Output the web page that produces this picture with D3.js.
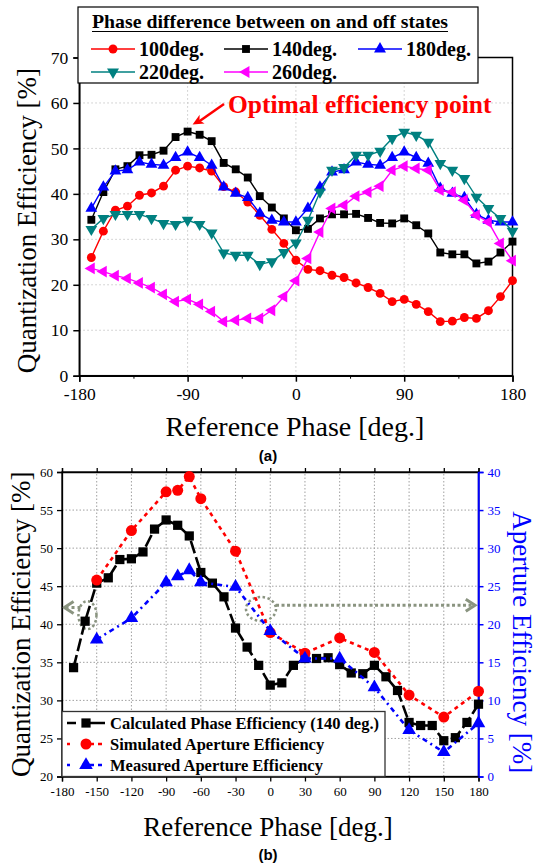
<!DOCTYPE html>
<html>
<head>
<meta charset="utf-8">
<script src="https://cdn.jsdelivr.net/npm/d3@7"></script>
<style>
body { margin: 0; background: #fff; }
text { font-family: "Liberation Serif", "Times New Roman", serif; }
</style>
</head>
<body>
<script>
// ---- data ----
// reference phase, deg.
let phase = [-170, -160, -150, -140, -130, -120, -110, -100, -90, -80, -70, -60,
             -50, -40, -30, -20, -10, 0, 10, 20, 30, 40, 50, 60,
             70, 80, 90, 100, 110, 120, 130, 140, 150, 160, 170, 180];

// quantization efficiency [%] for each on/off phase difference
let eff100 = [26.0, 31.8, 36.4, 37.3, 39.7, 40.2, 41.7, 45.2, 46.1, 45.7, 45.0, 41.6,
              40.4, 38.2, 35.3, 32.2, 29.1, 25.4, 23.4, 23.1, 22.1, 21.6, 20.4, 19.4,
              18.1, 16.3, 16.8, 15.7, 14.1, 11.9, 12.0, 12.8, 12.6, 14.3, 17.4, 20.9];
let eff140 = [34.3, 40.4, 45.4, 46.1, 48.5, 48.6, 49.5, 52.5, 53.7, 53.0, 51.6, 46.8,
              45.4, 43.6, 39.5, 37.0, 34.6, 32.0, 32.3, 34.6, 35.5, 35.5, 35.6, 34.7,
              33.6, 33.5, 34.6, 33.1, 31.3, 27.1, 26.7, 26.7, 24.7, 25.1, 27.1, 29.5];
let eff180 = [36.8, 41.5, 45.0, 45.3, 47.0, 46.5, 46.3, 48.0, 49.2, 48.0, 46.3, 41.5,
              40.1, 39.2, 35.7, 34.2, 33.8, 33.8, 36.8, 41.5, 44.8, 45.3, 47.0, 46.5,
              46.3, 48.0, 49.2, 48.0, 46.7, 41.2, 40.1, 39.2, 35.5, 34.2, 33.8, 33.8];
let eff220 = [32.2, 34.6, 35.5, 35.5, 35.5, 34.6, 33.5, 33.3, 34.2, 33.3, 31.4, 27.0,
              26.5, 26.5, 24.5, 25.1, 27.1, 29.2, 34.2, 40.4, 45.2, 45.8, 48.5, 48.5,
              49.4, 52.2, 53.6, 52.9, 51.4, 46.7, 45.2, 43.4, 39.3, 36.8, 34.6, 31.8];
let eff260 = [23.6, 22.9, 22.0, 21.4, 20.4, 19.4, 17.9, 16.3, 16.8, 15.7, 14.1, 11.9,
              12.2, 12.6, 12.6, 14.4, 17.4, 20.9, 25.8, 31.6, 36.8, 37.5, 39.5, 40.4,
              41.7, 45.2, 46.1, 45.6, 45.2, 40.8, 40.4, 38.6, 35.3, 33.8, 29.1, 25.3];

// panel (b): aperture efficiency [%]
let aperPhase = [-150, -120, -90, -80, -70, -60, -30, 0, 30, 60, 90, 120, 150, 180];
let simAper  = [25.8, 32.3, 37.4, 37.6, 39.4, 36.5, 29.6, 18.9, 16.2, 18.2, 16.3, 10.7, 7.8, 11.2];
let measAper = [18.0, 20.8, 25.5, 26.3, 27.1, 25.5, 24.9, 19.1, 15.5, 15.5, 11.7, 6.1, 3.2, 7.0];

let seriesA = [
  {name: '100deg.', values: eff100, color: '#ff0000', shape: 'circle'},
  {name: '140deg.', values: eff140, color: '#000000', shape: 'square'},
  {name: '180deg.', values: eff180, color: '#0000ff', shape: 'up'},
  {name: '220deg.', values: eff220, color: '#008080', shape: 'down'},
  {name: '260deg.', values: eff260, color: '#ff00ff', shape: 'left'}
];

let svg = d3.select('body').append('svg')
    .attr('width', 537)
    .attr('height', 865);

function marker(shape, size) {
  let type = shape === 'circle' ? d3.symbolCircle : shape === 'square' ? d3.symbolSquare : d3.symbolTriangle;
  return d3.symbol().type(type).size(size)();
}
function rot(shape) {
  return shape === 'down' ? 180 : shape === 'left' ? -90 : 0;
}
let plain = d => String(d);   // hyphen minus, like the original

// ================= panel (a) =================
let xA = d3.scaleLinear().domain([-180, 180]).range([79.3, 512.5]);
let yA = d3.scaleLinear().domain([0, 70]).range([375.7, 57.5]);

let gA = svg.append('g');

// grid
gA.append('g').selectAll('line')
    .data([-90, 0, 90])
  .enter().append('line')
    .attr('x1', d => xA(d)).attr('x2', d => xA(d))
    .attr('y1', yA(0)).attr('y2', yA(70))
    .attr('stroke', '#c8c8c8').attr('stroke-dasharray', '1.5,2.5');
gA.append('g').selectAll('line')
    .data([10, 20, 30, 40, 50, 60])
  .enter().append('line')
    .attr('x1', xA(-180)).attr('x2', xA(180))
    .attr('y1', d => yA(d)).attr('y2', d => yA(d))
    .attr('stroke', '#c8c8c8').attr('stroke-dasharray', '1.5,2.5');

// axes
let axA = gA.append('g')
    .attr('transform', 'translate(0,' + yA(0) + ')')
    .call(d3.axisBottom(xA).tickValues([-180, -90, 0, 90, 180]).tickSize(6).tickPadding(6).tickFormat(plain));
gA.append('g')
    .attr('transform', 'translate(0,' + yA(0) + ')')
    .call(d3.axisBottom(xA).tickValues([-135, -45, 45, 135]).tickSize(3).tickFormat(''))
    .select('.domain').remove();
let ayA = gA.append('g')
    .attr('transform', 'translate(' + xA(-180) + ',0)')
    .call(d3.axisLeft(yA).tickValues(d3.range(0, 71, 10)).tickSize(6).tickPadding(5));
[axA, ayA].forEach(a => {
  a.selectAll('text').style('font-family', '"Liberation Serif", serif').style('font-size', '17.5px').attr('fill', '#000');
  a.selectAll('line, path').attr('stroke', '#000').attr('stroke-width', 1.5);
});

// frame
gA.append('rect')
    .attr('x', xA(-180)).attr('y', yA(70))
    .attr('width', xA(180) - xA(-180)).attr('height', yA(0) - yA(70))
    .attr('fill', 'none').attr('stroke', '#000').attr('stroke-width', 1.5);

// series
seriesA.forEach(s => {
  let pts = phase.map((p, i) => [p, s.values[i]]);
  gA.append('path')
      .datum(pts)
      .attr('fill', 'none')
      .attr('stroke', s.color)
      .attr('stroke-width', 1.4)
      .attr('d', d3.line().x(d => xA(d[0])).y(d => yA(d[1])));
  gA.append('g').selectAll('path')
      .data(pts)
    .enter().append('path')
      .attr('d', marker(s.shape, s.shape === 'circle' ? 62 : s.shape === 'square' ? 62 : 60))
      .attr('transform', d => 'translate(' + xA(d[0]) + ',' + yA(d[1]) + ') rotate(' + rot(s.shape) + ')')
      .attr('fill', s.color);
});

// annotation
gA.append('text')
    .attr('x', 228).attr('y', 113)
    .attr('fill', '#ff0000')
    .style('font-size', '25.5px').style('font-weight', 'bold')
    .text('Optimal efficiency point');
gA.append('line')
    .attr('x1', 224).attr('y1', 104)
    .attr('x2', xA(-90) + 10).attr('y2', yA(53.7) - 9)
    .attr('stroke', '#ff0000').attr('stroke-width', 2.5);
gA.append('path')
    .attr('d', 'M0,0 L11,-5 L8,0 L11,5 Z')
    .attr('transform', 'translate(' + (xA(-90) + 5) + ',' + (yA(53.7) - 7) + ') rotate(-30)')
    .attr('fill', '#ff0000');

// legend
let lg = gA.append('g');
lg.append('rect')
    .attr('x', 78).attr('y', 7).attr('width', 400).attr('height', 76)
    .attr('fill', '#fff').attr('stroke', '#000').attr('stroke-width', 1.2);
lg.append('text')
    .attr('x', 92).attr('y', 28)
    .attr('textLength', 356).attr('lengthAdjust', 'spacingAndGlyphs')
    .style('font-size', '19px').style('font-weight', 'bold')
    .text('Phase difference between on and off states');
lg.append('line')
    .attr('x1', 92).attr('x2', 448).attr('y1', 31.5).attr('y2', 31.5)
    .attr('stroke', '#000').attr('stroke-width', 1.2);
let legPos = [[91, 49], [224, 49], [358, 49], [91, 72], [224, 72]];
seriesA.forEach((s, i) => {
  let [lx, ly] = legPos[i];
  let item = lg.append('g').attr('transform', 'translate(' + lx + ',' + ly + ')');
  item.append('line').attr('x1', 0).attr('x2', 44).attr('y1', 0).attr('y2', 0)
      .attr('stroke', s.color).attr('stroke-width', 1.4);
  item.append('path').attr('d', marker(s.shape, 62))
      .attr('transform', 'translate(22,0) rotate(' + rot(s.shape) + ')')
      .attr('fill', s.color);
  item.append('text').attr('x', 48).attr('y', 7)
      .style('font-size', '20px').style('font-weight', 'bold')
      .text(s.name);
});

// titles
gA.append('text')
    .attr('transform', 'translate(36,' + ((yA(0) + yA(70)) / 2 + 4) + ') rotate(-90)')
    .attr('text-anchor', 'middle')
    .style('font-size', '27px')
    .text('Quantization Efficiency [%]');
gA.append('text')
    .attr('x', (xA(-180) + xA(180)) / 2 - 1).attr('y', 436)
    .attr('text-anchor', 'middle')
    .style('font-size', '28px')
    .text('Reference Phase [deg.]');
svg.append('text')
    .attr('x', 268).attr('y', 461)
    .attr('text-anchor', 'middle')
    .style('font-family', '"Liberation Sans", Arial, sans-serif')
    .style('font-size', '15px').style('font-weight', 'bold')
    .text('(a)');

// ================= panel (b) =================
let xB = d3.scaleLinear().domain([-180, 180]).range([62, 478.5]);
let yB = d3.scaleLinear().domain([20, 60]).range([776.5, 472]);
let yR = d3.scaleLinear().domain([0, 40]).range([776.5, 472]);
let ticksB = d3.range(-180, 181, 30);

let gB = svg.append('g');

gB.append('g').selectAll('line')
    .data(ticksB.slice(1, -1))
  .enter().append('line')
    .attr('x1', d => xB(d)).attr('x2', d => xB(d))
    .attr('y1', yB(20)).attr('y2', yB(60))
    .attr('stroke', '#a0a0a0').attr('stroke-dasharray', '1.5,2');
gB.append('g').selectAll('line')
    .data([25, 30, 35, 40, 45, 50, 55])
  .enter().append('line')
    .attr('x1', xB(-180)).attr('x2', xB(180))
    .attr('y1', d => yB(d)).attr('y2', d => yB(d))
    .attr('stroke', '#a0a0a0').attr('stroke-dasharray', '1.5,2');

let axB = gB.append('g')
    .attr('transform', 'translate(0,' + yB(20) + ')')
    .call(d3.axisBottom(xB).tickValues(ticksB).tickSize(5).tickPadding(5).tickFormat(plain));
let axBt = gB.append('g')
    .attr('transform', 'translate(0,' + yB(60) + ')')
    .call(d3.axisTop(xB).tickValues(ticksB).tickSize(4).tickFormat(''));
let ayB = gB.append('g')
    .attr('transform', 'translate(' + xB(-180) + ',0)')
    .call(d3.axisLeft(yB).tickValues(d3.range(20, 61, 5)).tickSize(5).tickPadding(4));
let ayR = gB.append('g')
    .attr('transform', 'translate(' + xB(180) + ',0)')
    .call(d3.axisRight(yR).tickValues(d3.range(0, 41, 5)).tickSize(5).tickPadding(4));
[axB, axBt, ayB].forEach(a => {
  a.selectAll('text').style('font-family', '"Liberation Serif", serif').style('font-size', '13px').attr('fill', '#000');
  a.selectAll('line, path').attr('stroke', '#000').attr('stroke-width', 1.3);
});
ayR.selectAll('text').style('font-family', '"Liberation Serif", serif').style('font-size', '13px').attr('fill', '#0000ff');
ayR.selectAll('line, path').attr('stroke', '#0000ff').attr('stroke-width', 1.5);

// gray dotted guides
let guide = '#8a9480';
gB.append('ellipse')
    .attr('cx', xB(-158)).attr('cy', yB(41.2)).attr('rx', 9).attr('ry', 14)
    .attr('fill', 'none').attr('stroke', guide).attr('stroke-width', 2.5).attr('stroke-dasharray', '2.5,2.5');
gB.append('line')
    .attr('x1', xB(-164)).attr('x2', xB(-177)).attr('y1', yB(42.2)).attr('y2', yB(42.2))
    .attr('stroke', guide).attr('stroke-width', 3).attr('stroke-dasharray', '3,3');
gB.append('path')
    .attr('d', 'M' + (xB(-170)) + ',' + (yB(42.2) - 6) + ' L' + xB(-178) + ',' + yB(42.2) + ' L' + xB(-170) + ',' + (yB(42.2) + 6))
    .attr('fill', 'none').attr('stroke', guide).attr('stroke-width', 3);
gB.append('ellipse')
    .attr('cx', xB(-8)).attr('cy', yB(42)).attr('rx', 15).attr('ry', 12)
    .attr('fill', 'none').attr('stroke', guide).attr('stroke-width', 2.5).attr('stroke-dasharray', '2.5,2.5');
gB.append('line')
    .attr('x1', xB(5)).attr('x2', xB(176)).attr('y1', yB(42.5)).attr('y2', yB(42.5))
    .attr('stroke', guide).attr('stroke-width', 3).attr('stroke-dasharray', '3,2.5');
gB.append('path')
    .attr('d', 'M' + xB(169) + ',' + (yB(42.5) - 6) + ' L' + xB(177) + ',' + yB(42.5) + ' L' + xB(169) + ',' + (yB(42.5) + 6))
    .attr('fill', 'none').attr('stroke', guide).attr('stroke-width', 3);

// frame
gB.append('rect')
    .attr('x', xB(-180)).attr('y', yB(60))
    .attr('width', xB(180) - xB(-180)).attr('height', yB(20) - yB(60))
    .attr('fill', 'none').attr('stroke', '#000').attr('stroke-width', 1.3);
gB.append('line')
    .attr('x1', xB(180)).attr('x2', xB(180)).attr('y1', yB(20)).attr('y2', yB(60))
    .attr('stroke', '#0000ff').attr('stroke-width', 1.5);

let seriesB = [
  {name: 'Calculated Phase Efficiency (140 deg.)', pts: phase.map((p, i) => [p, eff140[i]]), y: yB,
   color: '#000000', shape: 'square', dash: '13,4', size: 85},
  {name: 'Simulated Aperture Efficiency', pts: aperPhase.map((p, i) => [p, simAper[i]]), y: yR,
   color: '#ff0000', shape: 'circle', dash: '4,4', size: 95},
  {name: 'Measured Aperture Efficiency', pts: aperPhase.map((p, i) => [p, measAper[i]]), y: yR,
   color: '#0000ff', shape: 'up', dash: '5,4,2,4', size: 80}
];

seriesB.forEach(s => {
  gB.append('path')
      .datum(s.pts)
      .attr('fill', 'none')
      .attr('stroke', s.color)
      .attr('stroke-width', 2.6)
      .attr('stroke-dasharray', s.dash)
      .attr('d', d3.line().x(d => xB(d[0])).y(d => s.y(d[1])));
  gB.append('g').selectAll('path')
      .data(s.pts)
    .enter().append('path')
      .attr('d', marker(s.shape, s.size))
      .attr('transform', d => 'translate(' + xB(d[0]) + ',' + s.y(d[1]) + ')')
      .attr('fill', s.color);
});

// legend (b)
let lgB = gB.append('g');
lgB.append('rect')
    .attr('x', xB(-180)).attr('y', 711.5).attr('width', 323).attr('height', yB(20) - 711.5)
    .attr('fill', '#fff').attr('stroke', '#333').attr('stroke-width', 1.3);
seriesB.forEach((s, i) => {
  let item = lgB.append('g').attr('transform', 'translate(67,' + (723 + i * 21) + ')');
  item.append('line').attr('x1', 0).attr('x2', 38).attr('y1', 0).attr('y2', 0)
      .attr('stroke', s.color).attr('stroke-width', 2.6).attr('stroke-dasharray', i === 0 ? '9,14,15' : '3,12,12,4,4');
  item.append('path').attr('d', marker(s.shape, s.size))
      .attr('transform', 'translate(19,0)').attr('fill', s.color);
  item.append('text').attr('x', 43).attr('y', 5.5)
      .style('font-size', '16.5px').style('font-weight', 'bold')
      .text(s.name);
});

// titles (b)
gB.append('text')
    .attr('transform', 'translate(30,' + ((yB(20) + yB(60)) / 2) + ') rotate(-90)')
    .attr('text-anchor', 'middle')
    .style('font-size', '27px')
    .text('Quantization Efficiency [%]');
gB.append('text')
    .attr('transform', 'translate(513,' + ((yB(20) + yB(60)) / 2 + 18) + ') rotate(90)')
    .attr('text-anchor', 'middle')
    .attr('fill', '#0000ff')
    .style('font-size', '27px')
    .text('Aperture Efficiency [%]');
gB.append('text')
    .attr('x', 268).attr('y', 836)
    .attr('text-anchor', 'middle')
    .style('font-size', '27px')
    .text('Reference Phase [deg.]');
svg.append('text')
    .attr('x', 268).attr('y', 860)
    .attr('text-anchor', 'middle')
    .style('font-family', '"Liberation Sans", Arial, sans-serif')
    .style('font-size', '15px').style('font-weight', 'bold')
    .text('(b)');
</script>
</body>
</html>
